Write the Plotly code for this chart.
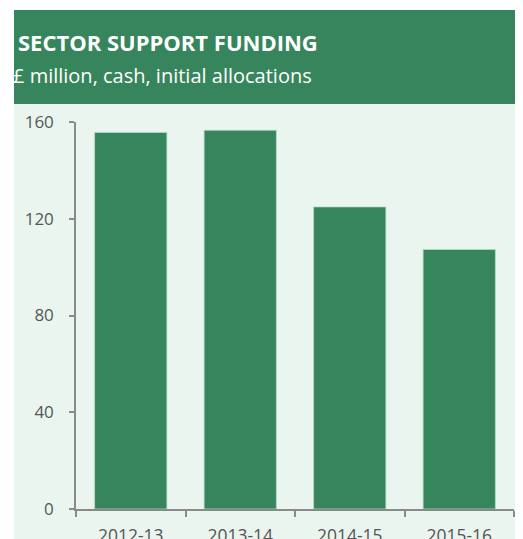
import plotly.graph_objects as go

categories = ["2012-13", "2013-14", "2014-15", "2015-16"]
funding = [155.7, 156.6, 124.9, 107.3]
y_ticks = [0, 40, 80, 120, 160]

title_text = "SECTOR SUPPORT FUNDING"
subtitle_text = "£ million, cash, initial allocations"

GREEN = "#37855c"
LIGHT = "#ebf5f0"
AXIS = "#8a8a8a"
TEXT = "#555555"

OFF = 8  # default page body margin
W, H = 523 - OFF, 539 - OFF
plot_left, plot_right, plot_top, plot_bottom = 76, 514, 122, 509  # page pixels
L = plot_left - OFF
R = W - (plot_right - OFF)
T = plot_top - OFF
B = H - (plot_bottom - OFF)
pw, ph = W - L - R, H - T - B

def px_x(x):
    return (x - OFF - L) / pw

def px_y(y):
    return (H - B - (y - OFF)) / ph

fig = go.Figure(
    go.Bar(
        x=categories,
        y=funding,
        marker=dict(color=GREEN, line=dict(color="rgba(180,220,195,0.8)", width=1)),
        width=0.66,
    )
)

fig.add_shape(type="rect", xref="paper", yref="paper",
              x0=px_x(14), x1=px_x(518), y0=px_y(545), y1=px_y(104),
              fillcolor=LIGHT, line=dict(width=0), layer="below")
fig.add_shape(type="rect", xref="paper", yref="paper",
              x0=px_x(14), x1=px_x(518), y0=px_y(104), y1=px_y(10),
              fillcolor=GREEN, line=dict(width=0), layer="below")

fig.add_annotation(text="<b>" + title_text + "</b>", xref="paper", yref="paper",
                   x=px_x(16), y=px_y(42), xanchor="left", yanchor="middle",
                   showarrow=False, font=dict(family="Open Sans", size=22, color="white"))
fig.add_annotation(text=subtitle_text, xref="paper", yref="paper",
                   x=px_x(11), y=px_y(75), xanchor="left", yanchor="middle",
                   showarrow=False, font=dict(family="Open Sans", size=20, color="white"))

fig.update_layout(
    width=W, height=H,
    margin=dict(l=L, r=R, t=T, b=B, pad=0, autoexpand=False),
    paper_bgcolor="white",
    plot_bgcolor="rgba(0,0,0,0)",
    showlegend=False,
    font=dict(family="Open Sans", size=16, color=TEXT),
    bargap=0.34,
)
fig.update_xaxes(
    automargin=False,
    showline=True, linecolor=AXIS, linewidth=1.5,
    ticks="outside", tickson="boundaries", ticklen=6, tickcolor=AXIS, tickwidth=1.5,
    showgrid=False, tickfont=dict(size=17.5, color=TEXT),
    ticklabelstandoff=10,
)
fig.update_yaxes(
    automargin=False,
    range=[0, 160], tickvals=y_ticks,
    showline=True, linecolor=AXIS, linewidth=1.5,
    ticks="outside", ticklen=5, tickcolor=AXIS, tickwidth=1.5,
    showgrid=False, zeroline=False, tickfont=dict(size=17, color=TEXT),
    ticklabelstandoff=12,
)

fig.write_html("out.html")
